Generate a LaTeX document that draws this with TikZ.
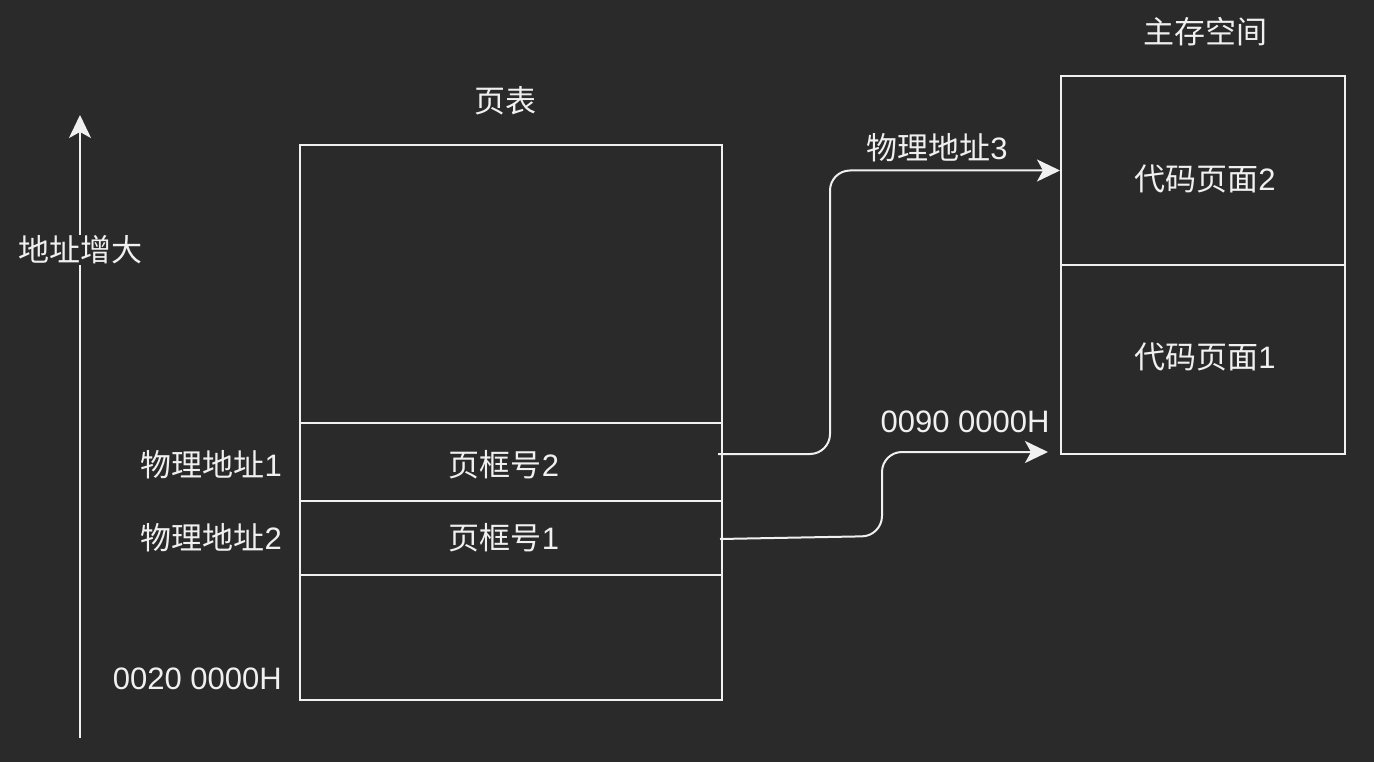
\documentclass[tikz,border=0pt]{standalone}
\usepackage{fontspec}
\setmainfont{Liberation Sans}
\newfontfamily\cjkfont{Noto Sans CJK SC}
\newcommand{\zh}[1]{{\cjkfont #1}}
\usepackage{tikz}
\usetikzlibrary{arrows.meta}
\usetikzlibrary{positioning}
\definecolor{bgcol}{HTML}{2A2A2A}
\definecolor{fgcol}{HTML}{F0F0F0}
\tikzset{
    cell/.style={
        draw=fgcol,
        line width=2pt,
        rectangle,
        minimum width=422pt,
        inner sep=0pt,
        text=fgcol
    },
    page/.style={
        draw=fgcol,
        line width=2pt,
        rectangle,
        minimum width=284pt,
        minimum height=189pt,
        inner sep=0pt,
        text=fgcol
    },
    lbl/.style={
        text=fgcol,
        inner sep=1pt
    },
    link/.style={
        draw=fgcol,
        line width=2pt,
        rounded corners=20pt,
        -{Stealth[length=23pt, width=22pt, inset=6pt]}
    }
}

\begin{document}
\begin{tikzpicture}[x=1pt, y=-1pt,
    every node/.style={font=\fontsize{31}{36}\selectfont}]
    \fill[bgcol] (0,0) rectangle (1374,762);
    \useasboundingbox (0,0) rectangle (1374,762);

    % Address axis
    \coordinate (abot) at (80,738);
    \coordinate (atop) at (80,115);
    \draw[link] (abot) -- (atop);
    \node[lbl, fill=bgcol] (grow) at (80,250) {\zh{地址增大}};

    % Page table
    \node[cell, minimum height=278pt] (ptop) at (511,284) {};
    \node[cell, minimum height=78pt] (fr2) at (511,462) {};
    \node[cell, minimum height=74pt] (fr1) at (511,538) {};
    \node[cell, minimum height=125pt] (pbot) at (511,637.5) {};
    \node[lbl] (fr2txt) at (504,465) {\zh{页框号}2};
    \node[lbl] (fr1txt) at (504,538) {\zh{页框号}1};
    \node[lbl] (ptitle) at (505,101) {\zh{页表}};
    \node[lbl, anchor=east] (pa1) at (283,465) {\zh{物理地址}1};
    \node[lbl, anchor=east] (pa2) at (283,538) {\zh{物理地址}2};
    \node[lbl, anchor=east] (base) at (283,679) {0020 0000H};

    % Main memory
    \node[page] (mem2) at (1203,170.5) {};
    \node[page] (mem1) at (1203,359.5) {};
    \node[lbl] (code2) at (1205,179) {\zh{代码页面}2};
    \node[lbl] (code1) at (1205,357) {\zh{代码页面}1};
    \node[lbl] (mtitle) at (1205,32) {\zh{主存空间}};
    \node[lbl] (pa3) at (937,148) {\zh{物理地址}3};
    \node[lbl] (mbase) at (965,422) {0090 0000H};

    % Mapping arrows
    \coordinate (s2) at (718,454);
    \coordinate (s1) at (720,539);
    \coordinate (t1) at (1048,452);
    \draw[link] (s2) -- (830,454) -- (830,170.5) -- (mem2.west);
    \draw[link] (s1) -- (882,536) -- (882,452) -- (t1);
\end{tikzpicture}
\end{document}
